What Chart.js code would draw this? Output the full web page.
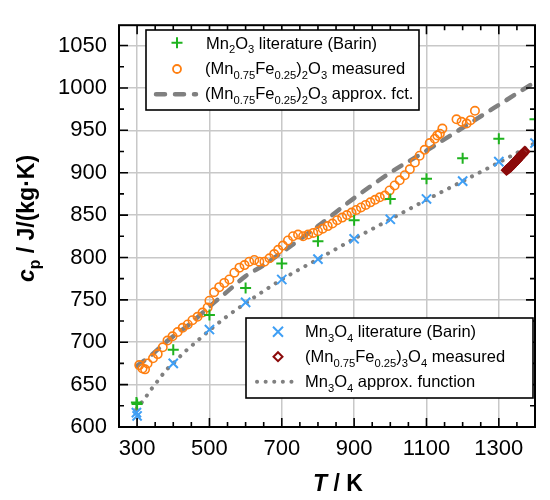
<!DOCTYPE html>
<html><head><meta charset="utf-8">
<script src="https://cdn.jsdelivr.net/npm/chart.js"></script>
<style>html,body{margin:0;padding:0;background:#fff;}#wrap{width:550px;height:500px;}</style>
</head><body><div id="wrap"><canvas id="c" width="550" height="500"></canvas></div>
<script>
const FONT = '"Liberation Sans", Arial, Helvetica, sans-serif';

// ---- data ----
const xTickLabels = [300, 500, 700, 900, 1100, 1300];
const yTickLabels = [600, 650, 700, 750, 800, 850, 900, 950, 1000, 1050];

const mn2o3LitT  = [298.15, 300, 400, 500, 600, 700, 800, 900, 1000, 1100, 1200, 1300, 1400];
const mn2o3LitCp = [629, 627, 691, 732, 764, 793, 819, 844, 869, 893, 917, 940, 963];

const mn3o4LitT  = [298.15, 300, 400, 500, 600, 700, 800, 900, 1000, 1100, 1200, 1300, 1400];
const mn3o4LitCp = [617, 613, 675, 715, 747, 774, 798, 822, 845, 869, 890, 913, 935];

const mnfe2o3MeasT  = [306, 315, 322, 329, 344, 357, 371, 384, 398, 412, 426, 440, 453, 467, 481, 495, 500, 513, 527, 541, 555, 569, 583, 597, 610, 624, 638, 652, 666, 679, 690, 703, 717, 731, 745, 759, 773, 787, 800, 813, 827, 840, 853, 867, 880, 893, 906, 919, 932, 945, 958, 971, 985, 998, 1012, 1026, 1040, 1054, 1068, 1081, 1095, 1109, 1123, 1130, 1137, 1144, 1183, 1197, 1211, 1222, 1234];
const mnfe2o3MeasCp = [673, 669, 668, 675, 681, 686, 694, 702, 707, 712, 717, 721, 726, 730, 735, 741, 749, 759, 765, 770, 774, 782, 788, 791, 795, 797, 795, 795, 799, 804, 809, 814, 820, 825, 827, 825, 827, 829, 831, 834, 837, 840, 844, 847, 850, 853, 856, 859, 862, 865, 868, 871, 873, 879, 885, 891, 897, 904, 912, 920, 927, 935, 940, 944, 946, 952, 963, 960, 958, 962, 973];

const mnfe2o3FitT  = [300, 340, 385, 450, 500, 550, 600, 650, 700, 800, 900, 1000, 1100, 1200, 1300, 1400];
const mnfe2o3FitCp = [672, 685, 702, 723, 742, 760, 778, 791, 806, 837, 870, 900, 926, 953, 980, 1007];

const mnfe3o4MeasT  = [1321, 1324, 1327, 1330, 1333, 1336, 1339, 1342, 1345, 1348, 1351, 1354, 1357, 1360, 1363, 1366, 1369, 1372];
const mnfe3o4MeasCp = [903, 904, 905, 906, 907, 909, 910, 911, 913, 914, 915, 917, 918, 920, 921, 922, 924, 925];

const mn3o4FitT  = [298, 320, 340, 360, 380, 400, 430, 465, 500, 550, 600, 700, 800, 900, 1000, 1100, 1200, 1300, 1400];
const mn3o4FitCp = [621, 633, 645, 656, 667, 675, 688, 701, 714, 731, 746, 774, 798, 822, 845, 868, 890, 912, 935];

// ---- styles ----
const C_GREEN = '#1fb31f', C_ORANGE = '#ff7f10', C_BLUE = '#3f9ff5', C_RED = '#8b0a0a', C_GRAY = '#808080';

const zip = (xs, ys) => xs.map((x, i) => ({x: x, y: ys[i]}));

function drawRich(ctx, parts, x, y, size, align) {
  const subSize = size * 0.68, subOff = size * 0.28;
  let total = 0;
  const widths = parts.map(p => {
    ctx.font = (p[2] || '') + ' ' + (p[1] ? subSize : size) + 'px ' + FONT;
    return ctx.measureText(p[0]).width;
  });
  widths.forEach(w => total += w);
  let cx = align === 'center' ? x - total / 2 : x;
  ctx.textAlign = 'left';
  ctx.textBaseline = 'alphabetic';
  parts.forEach((p, i) => {
    ctx.font = (p[2] || '') + ' ' + (p[1] ? subSize : size) + 'px ' + FONT;
    ctx.fillText(p[0], cx, p[1] ? y + subOff : y);
    cx += widths[i];
  });
}

function sym(ctx, type, x, y) {
  ctx.save();
  ctx.setLineDash([]);
  if (type === 'plus') {
    ctx.strokeStyle = C_GREEN; ctx.lineWidth = 2;
    ctx.beginPath(); ctx.moveTo(x - 5.5, y); ctx.lineTo(x + 5.5, y); ctx.moveTo(x, y - 5.5); ctx.lineTo(x, y + 5.5); ctx.stroke();
  } else if (type === 'circle') {
    ctx.strokeStyle = C_ORANGE; ctx.lineWidth = 1.8;
    ctx.beginPath(); ctx.arc(x, y, 4, 0, Math.PI * 2); ctx.stroke();
  } else if (type === 'x') {
    ctx.strokeStyle = C_BLUE; ctx.lineWidth = 2;
    const r = 5;
    ctx.beginPath(); ctx.moveTo(x - r, y - r); ctx.lineTo(x + r, y + r); ctx.moveTo(x - r, y + r); ctx.lineTo(x + r, y - r); ctx.stroke();
  } else if (type === 'diamond') {
    ctx.strokeStyle = C_RED; ctx.lineWidth = 2;
    const r = 4.5;
    ctx.beginPath(); ctx.moveTo(x, y - r); ctx.lineTo(x + r, y); ctx.lineTo(x, y + r); ctx.lineTo(x - r, y); ctx.closePath(); ctx.stroke();
  } else if (type === 'dash') {
    ctx.strokeStyle = C_GRAY; ctx.lineWidth = 4.5; ctx.lineCap = 'round';
    ctx.setLineDash([9, 10]);
    ctx.beginPath(); ctx.moveTo(x - 20, y); ctx.lineTo(x + 20, y); ctx.stroke();
  } else if (type === 'dot') {
    ctx.strokeStyle = C_GRAY; ctx.lineWidth = 4; ctx.lineCap = 'round';
    ctx.setLineDash([0.1, 8.5]);
    ctx.beginPath(); ctx.moveTo(x - 19, y); ctx.lineTo(x + 19, y); ctx.stroke();
  }
  ctx.restore();
}

const SUBS = {
  mn2o3: [['Mn'], ['2', true], ['O'], ['3', true]],
  mnfe2: [['(Mn'], ['0.75', true], ['Fe'], ['0.25', true], [')'], ['2', true], ['O'], ['3', true]],
  mnfe3: [['(Mn'], ['0.75', true], ['Fe'], ['0.25', true], [')'], ['3', true], ['O'], ['4', true]],
  mn3o4: [['Mn'], ['3', true], ['O'], ['4', true]]
};

const decorPlugin = {
  id: 'decor',
  afterDraw(chart) {
    const ctx = chart.ctx, a = chart.chartArea, xs = chart.scales.x, ys = chart.scales.y;
    ctx.save();
    ctx.strokeStyle = '#000'; ctx.lineWidth = 1.6;
    ctx.beginPath();
    for (let v = xs.min; v <= xs.max; v += 50) {
      const px = xs.getPixelForValue(v);
      const len = xTickLabels.includes(v) ? 9 : 5;
      ctx.moveTo(px, a.bottom); ctx.lineTo(px, a.bottom - len);
      ctx.moveTo(px, a.top); ctx.lineTo(px, a.top + len);
    }
    for (let v = ys.min; v <= ys.max; v += 25) {
      const py = ys.getPixelForValue(v);
      const len = yTickLabels.includes(v) ? 9 : 5;
      ctx.moveTo(a.left, py); ctx.lineTo(a.left + len, py);
      ctx.moveTo(a.right, py); ctx.lineTo(a.right - len, py);
    }
    ctx.stroke();
    ctx.lineWidth = 2;
    ctx.strokeRect(a.left, a.top, a.right - a.left, a.bottom - a.top);

    ctx.fillStyle = '#fff'; ctx.lineWidth = 1.6; ctx.strokeStyle = '#000';
    ctx.fillRect(146, 30, 273, 80); ctx.strokeRect(146, 30, 273, 80);
    ctx.fillStyle = '#000';
    const fs = 16.5;
    sym(ctx, 'plus', 177, 42.7);
    drawRich(ctx, SUBS.mn2o3.concat([[' literature (Barin)']]), 206, 48.5, fs);
    sym(ctx, 'circle', 177, 69);
    drawRich(ctx, SUBS.mnfe2.concat([[' measured']]), 205, 74, fs);
    sym(ctx, 'dash', 176, 94.3);
    drawRich(ctx, SUBS.mnfe2.concat([[' approx. fct.']]), 205, 99.3, fs);

    ctx.fillStyle = '#fff';
    ctx.fillRect(246, 318, 287, 80); ctx.strokeRect(246, 318, 287, 80);
    ctx.fillStyle = '#000';
    sym(ctx, 'x', 278, 331.7);
    drawRich(ctx, SUBS.mn3o4.concat([[' literature (Barin)']]), 305, 337.3, fs);
    sym(ctx, 'diamond', 278, 356.7);
    drawRich(ctx, SUBS.mnfe3.concat([[' measured']]), 305, 362.3, fs);
    sym(ctx, 'dot', 276, 381.7);
    drawRich(ctx, SUBS.mn3o4.concat([[' approx. function']]), 305, 387.3, fs);

    drawRich(ctx, [['T', false, 'italic bold'], [' / K', false, 'bold']], 338, 491, 23, 'center');
    ctx.save();
    ctx.translate(34, 218.5);
    ctx.rotate(-Math.PI / 2);
    drawRich(ctx, [['c', false, 'italic bold'], ['p', true, 'bold'], [' / J/(kg\u00b7K)', false, 'bold']], 0, 0, 23, 'center');
    ctx.restore();
    ctx.restore();
  }
};

const lineBase = {showLine: true, pointRadius: 0, borderColor: C_GRAY, backgroundColor: C_GRAY, borderCapStyle: 'round', cubicInterpolationMode: 'monotone', clip: 0, order: 10};

new Chart(document.getElementById('c'), {
  type: 'scatter',
  data: {
    datasets: [
      Object.assign({}, lineBase, {label: 'Mn3O4 approx. function', data: zip(mn3o4FitT, mn3o4FitCp), borderWidth: 4, borderDash: [0.1, 8.5]}),
      Object.assign({}, lineBase, {label: '(Mn0.75Fe0.25)2O3 approx. fct.', data: zip(mnfe2o3FitT, mnfe2o3FitCp), borderWidth: 4.5, borderDash: [9, 10]}),
      {label: '(Mn0.75Fe0.25)2O3 measured', data: zip(mnfe2o3MeasT, mnfe2o3MeasCp), pointStyle: 'circle', pointRadius: 4.2, pointBorderWidth: 1.6, borderColor: C_ORANGE, pointBorderColor: C_ORANGE, pointBackgroundColor: 'rgba(0,0,0,0)', clip: 0, order: 3},
      {label: 'Mn2O3 literature (Barin)', data: zip(mn2o3LitT, mn2o3LitCp), pointStyle: 'cross', pointRadius: 5.5, pointBorderWidth: 2, pointBorderColor: C_GREEN, borderColor: C_GREEN, clip: 0, order: 2},
      {label: 'Mn3O4 literature (Barin)', data: zip(mn3o4LitT, mn3o4LitCp), pointStyle: 'crossRot', pointRadius: 6.5, pointBorderWidth: 2, pointBorderColor: C_BLUE, borderColor: C_BLUE, clip: 0, order: 2},
      {label: '(Mn0.75Fe0.25)3O4 measured', data: zip(mnfe3o4MeasT, mnfe3o4MeasCp), pointStyle: 'rectRot', pointRadius: 4.5, pointBorderWidth: 2, pointBorderColor: C_RED, borderColor: C_RED, pointBackgroundColor: 'rgba(0,0,0,0)', clip: 0, order: 1}
    ]
  },
  options: {
    responsive: false, animation: false, devicePixelRatio: 1,
    layout: {padding: {left: 0, right: 15, top: 12, bottom: 0}},
    plugins: {legend: {display: false}, tooltip: {enabled: false}},
    scales: {
      x: {
        type: 'linear', min: 250, max: 1400,
        afterBuildTicks: s => { s.ticks = xTickLabels.map(v => ({value: v})); },
        afterFit: s => { s.height = 73; },
        ticks: {font: {family: FONT, size: 22}, color: '#000', padding: 9, maxRotation: 0, autoSkip: false, callback: v => String(v)},
        grid: {color: '#c8c8c8', lineWidth: 1.5, drawTicks: false},
        border: {display: false}
      },
      y: {
        type: 'linear', min: 600, max: 1074,
        afterBuildTicks: s => { s.ticks = yTickLabels.map(v => ({value: v})); },
        afterFit: s => { s.width = 119; },
        ticks: {font: {family: FONT, size: 22}, color: '#000', padding: 12, autoSkip: false, callback: v => String(v)},
        grid: {color: '#c8c8c8', lineWidth: 1.5, drawTicks: false},
        border: {display: false}
      }
    }
  },
  plugins: [decorPlugin]
});
</script>
</body></html>
